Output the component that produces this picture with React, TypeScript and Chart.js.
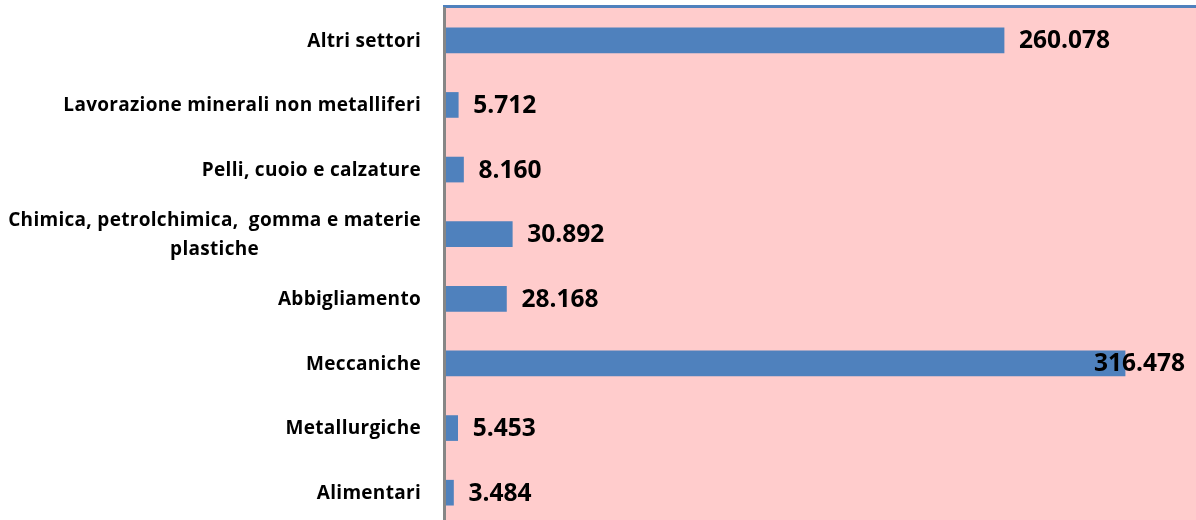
import React, { useEffect, useRef } from "react";
import { Chart, registerables } from "chart.js";

Chart.register(...registerables);

const categories: (string | string[])[] = [
  "Altri settori",
  "Lavorazione minerali non metalliferi",
  "Pelli, cuoio e calzature",
  ["Chimica, petrolchimica,  gomma e materie", "plastiche"],
  "Abbigliamento",
  "Meccaniche",
  "Metallurgiche",
  "Alimentari",
];
const values = [260078, 5712, 8160, 30892, 28168, 316478, 5453, 3484];
const xMin = 0;
const xMax = 350000;

const fmt = (v: number) => String(v).replace(/\B(?=(\d{3})+(?!\d))/g, ".");

const FONT = "'Open Sans', 'Noto Sans', sans-serif";

const decor = {
  id: "decor",
  beforeDraw(chart: any) {
    const { ctx, chartArea: a } = chart;
    ctx.save();
    ctx.fillStyle = "#FFCCCC";
    ctx.fillRect(a.left, a.top, a.right - a.left, a.bottom - a.top);
    ctx.restore();
  },
  afterDatasetsDraw(chart: any) {
    const { ctx, chartArea: a } = chart;
    ctx.save();
    // top border and left axis
    ctx.fillStyle = "#4F81BD";
    ctx.fillRect(a.left - 3, a.top - 3, a.right - a.left + 3, 3);
    ctx.fillStyle = "#868686";
    ctx.fillRect(a.left - 3, a.top - 1, 3, a.bottom - a.top + 1);

    // category labels
    const yScale = chart.scales.y;
    ctx.font = `bold 19px ${FONT}`;
    (ctx as any).letterSpacing = "0.3px";
    ctx.fillStyle = "#000000";
    ctx.textBaseline = "middle";
    ctx.textAlign = "center";
    const labelRight = a.left - 25;
    const lh = 29;
    categories.forEach((lab, i) => {
      const lines = Array.isArray(lab) ? lab : [lab];
      const w = Math.max(...lines.map((l) => ctx.measureText(l).width));
      const cx = labelRight - w / 2;
      const cy = yScale.getPixelForTick(i);
      lines.forEach((l, j) => {
        ctx.fillText(l, cx, cy + (j - (lines.length - 1) / 2) * lh + 1);
      });
    });

    // value labels
    const meta = chart.getDatasetMeta(0);
    (ctx as any).letterSpacing = "0px";
    ctx.font = `bold 24.5px ${FONT}`;
    ctx.textAlign = "left";
    meta.data.forEach((bar: any, i: number) => {
      const txt = fmt(values[i]);
      const w = ctx.measureText(txt).width;
      let x = bar.x + 15;
      if (x + w > a.right - 12) x = a.right - 12 - w;
      ctx.fillText(txt, x, bar.y + 1);
    });
    ctx.restore();
  },
};

export default function App() {
  const ref = useRef<HTMLCanvasElement | null>(null);
  useEffect(() => {
    if (!ref.current) return;
    const chart = new Chart(ref.current, {
      type: "bar",
      data: {
        labels: categories as any,
        datasets: [
          {
            data: values,
            backgroundColor: "#4F81BD",
            borderWidth: 0,
            barThickness: 25,
          },
        ],
      },
      options: {
        indexAxis: "y",
        animation: false,
        responsive: false,
        devicePixelRatio: 1,
        layout: { padding: { top: 8, left: 0, right: 0, bottom: 0 } },
        plugins: {
          legend: { display: false },
          tooltip: { enabled: false },
          title: { display: false },
        },
        scales: {
          x: { display: false, min: xMin, max: xMax },
          y: {
            display: true,
            ticks: { display: false },
            grid: { display: false },
            border: { display: false },
            afterFit: (scale: any) => {
              scale.width = 446;
            },
          },
        },
      },
      plugins: [decor],
    });
    return () => chart.destroy();
  }, []);
  return (
    <div style={{ position: "fixed", left: 0, top: 0, width: 1197, height: 525, background: "#ffffff" }}>
      <canvas ref={ref} width={1197} height={525} style={{ display: "block" }} />
    </div>
  );
}
